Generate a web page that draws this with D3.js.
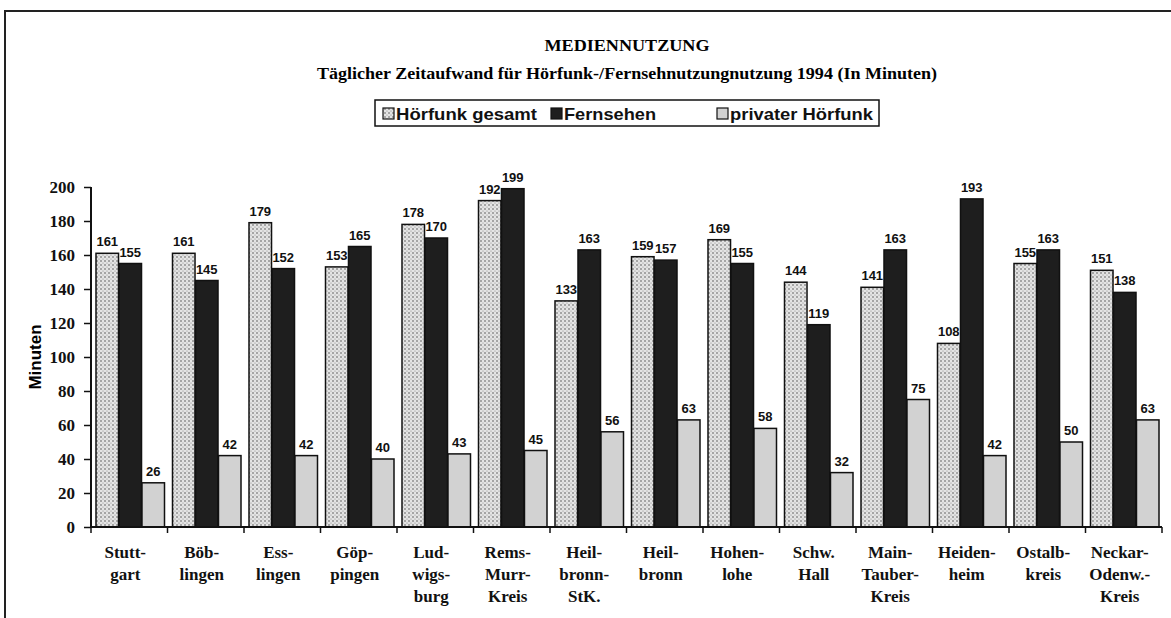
<!DOCTYPE html>
<html>
<head>
<meta charset="utf-8">
<script src="https://cdn.jsdelivr.net/npm/d3@7"></script>
<style>
  body { margin: 0; background: #fff; }
</style>
</head>
<body>
<script>
// data
const kreise = [
  ["Stutt-", "gart"], ["Böb-", "lingen"], ["Ess-", "lingen"], ["Göp-", "pingen"],
  ["Lud-", "wigs-", "burg"], ["Rems-", "Murr-", "Kreis"], ["Heil-", "bronn-", "StK."],
  ["Heil-", "bronn"], ["Hohen-", "lohe"], ["Schw.", "Hall"], ["Main-", "Tauber-", "Kreis"],
  ["Heiden-", "heim"], ["Ostalb-", "kreis"], ["Neckar-", "Odenw.-", "Kreis"]
];
const hoerfunk = [161, 161, 179, 153, 178, 192, 133, 159, 169, 144, 141, 108, 155, 151];
const fernsehen = [155, 145, 152, 165, 170, 199, 163, 157, 155, 119, 163, 193, 163, 138];
const privat = [26, 42, 42, 40, 43, 45, 56, 63, 58, 32, 75, 42, 50, 63];
const serien = ["Hörfunk gesamt", "Fernsehen", "privater Hörfunk"];
const yTicks = [0, 20, 40, 60, 80, 100, 120, 140, 160, 180, 200];

let width = 1171, height = 618;
let margin = { top: 187, bottom: 91, left: 91, right: 9 };

let svg = d3.select('body')
  .append('svg')
  .attr('width', width)
  .attr('height', height);

// dot pattern for "Hörfunk gesamt"
let defs = svg.append('defs');
let dots = defs.append('pattern')
  .attr('id', 'dots')
  .attr('width', 4).attr('height', 4)
  .attr('patternUnits', 'userSpaceOnUse');
dots.append('rect').attr('width', 4).attr('height', 4).attr('fill', '#e4e4e4');
dots.append('circle').attr('cx', 1).attr('cy', 1).attr('r', 0.8).attr('fill', '#555');
dots.append('circle').attr('cx', 3).attr('cy', 3).attr('r', 0.6).attr('fill', '#888');

// outer frame
svg.append('rect')
  .attr('x', 5).attr('y', 11)
  .attr('width', width + 10).attr('height', 620)
  .attr('fill', 'none').attr('stroke', '#222').attr('stroke-width', 2);

const serif = "'Liberation Serif', 'DejaVu Serif', serif";
const sans = "'Liberation Sans', Arial, sans-serif";

// titles
svg.append('text')
  .attr('x', 627).attr('y', 51)
  .text('MEDIENNUTZUNG')
  .attr('textLength', 165).attr('lengthAdjust', 'spacingAndGlyphs')
  .style('font-family', serif).style('font-weight', 'bold').style('font-size', '17px')
  .style('text-anchor', 'middle');

svg.append('text')
  .attr('x', 627).attr('y', 79)
  .text('Täglicher Zeitaufwand für Hörfunk-/Fernsehnutzungnutzung 1994 (In Minuten)')
  .attr('textLength', 620).attr('lengthAdjust', 'spacingAndGlyphs')
  .style('font-family', serif).style('font-weight', 'bold').style('font-size', '16px')
  .style('text-anchor', 'middle');

// scales
let xScale = d3.scaleBand()
  .domain(d3.range(kreise.length))
  .range([margin.left, width - margin.right])
  .paddingInner(0)
  .paddingOuter(0);

let inner = d3.scaleBand()
  .domain([0, 1, 2])
  .range([5, xScale.bandwidth() - 3])
  .paddingInner(0.02);

let yScale = d3.scaleLinear()
  .domain([0, 200])
  .range([height - margin.bottom, margin.top]);

// bars
const fills = ['url(#dots)', '#1e1e1e', '#d2d2d2'];
const values = [hoerfunk, fernsehen, privat];

values.forEach((vals, s) => {
  svg.selectAll('.bar-' + s)
    .data(vals)
    .enter()
    .append('rect')
    .attr('class', 'bar-' + s)
    .attr('x', (d, i) => xScale(i) + inner(s))
    .attr('y', d => yScale(d))
    .attr('width', inner.bandwidth())
    .attr('height', d => yScale(0) - yScale(d))
    .attr('fill', fills[s])
    .attr('stroke', '#111')
    .attr('stroke-width', 1.5);

  svg.selectAll('.lbl-' + s)
    .data(vals)
    .enter()
    .append('text')
    .attr('x', (d, i) => xScale(i) + inner(s) + inner.bandwidth() / 2)
    .attr('y', d => yScale(d) - 7)
    .text(d => d)
    .style('font-family', sans).style('font-weight', 'bold').style('font-size', '13px')
    .style('text-anchor', 'middle')
    .style('fill', '#111');
});

// y axis
let yAxis = svg.append('g')
  .attr('transform', `translate(${margin.left}, 0)`)
  .call(d3.axisLeft(yScale).tickValues(yTicks).tickSize(7).tickPadding(9));
yAxis.selectAll('text')
  .style('font-family', serif).style('font-weight', 'bold').style('font-size', '17px')
  .style('fill', '#111');
yAxis.selectAll('line').attr('stroke', '#111').attr('stroke-width', 1.5);
yAxis.select('.domain').attr('stroke', '#111').attr('stroke-width', 2).attr('d', `M0,${yScale(200)}V${yScale(0)}`);

// x axis (boundary ticks)
let xAxisG = svg.append('g')
  .attr('transform', `translate(0, ${yScale(0)})`);
xAxisG.append('line')
  .attr('x1', margin.left).attr('x2', width - margin.right)
  .attr('stroke', '#111').attr('stroke-width', 2);
xAxisG.selectAll('.xt')
  .data(d3.range(kreise.length + 1))
  .enter()
  .append('line')
  .attr('x1', i => i < kreise.length ? xScale(i) : width - margin.right)
  .attr('x2', i => i < kreise.length ? xScale(i) : width - margin.right)
  .attr('y1', 0).attr('y2', 6)
  .attr('stroke', '#111').attr('stroke-width', 1.5);

// category labels
kreise.forEach((lines, i) => {
  let cx = xScale(i) + xScale.bandwidth() / 2 - 4;
  let t = svg.append('text')
    .attr('x', cx)
    .attr('y', 558)
    .style('font-family', serif).style('font-weight', 'bold').style('font-size', '17px')
    .style('text-anchor', 'middle')
    .style('fill', '#111');
  lines.forEach((l, j) => {
    t.append('tspan')
      .attr('x', cx)
      .attr('dy', j === 0 ? 0 : 22)
      .text(l);
  });
});

// y label
svg.append('text')
  .attr('transform', 'translate(41, 357) rotate(-90)')
  .text('Minuten')
  .style('font-family', sans).style('font-weight', 'bold').style('font-size', '17px')
  .style('text-anchor', 'middle');

// legend
let legend = svg.append('g').attr('class', 'legend');
legend.append('rect')
  .attr('x', 375).attr('y', 100).attr('width', 504).attr('height', 26)
  .attr('fill', '#fff').attr('stroke', '#111').attr('stroke-width', 1.5);
const legX = [383, 551, 717];
const legW = [141, 92, 143];
serien.forEach((name, i) => {
  legend.append('rect')
    .attr('x', legX[i]).attr('y', 108).attr('width', 11).attr('height', 11)
    .attr('fill', fills[i]).attr('stroke', '#111').attr('stroke-width', 1.2);
  legend.append('text')
    .attr('x', legX[i] + 13).attr('y', 120)
    .text(name)
    .attr('textLength', legW[i]).attr('lengthAdjust', 'spacingAndGlyphs')
    .style('font-family', sans).style('font-weight', 'bold').style('font-size', '17px')
    .style('fill', '#111');
});
</script>
</body>
</html>
